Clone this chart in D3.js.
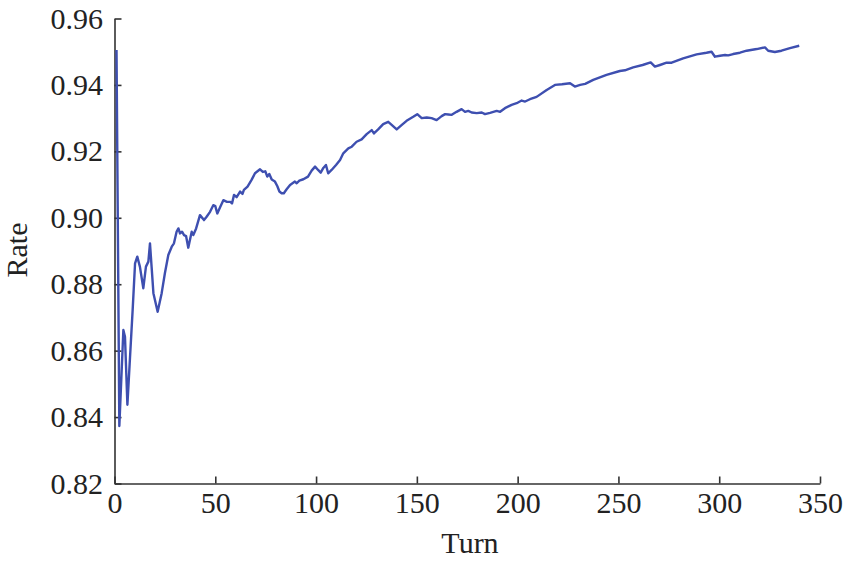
<!DOCTYPE html>
<html>
<head>
<meta charset="utf-8">
<script src="https://cdn.jsdelivr.net/npm/d3@7"></script>
<style>
  html, body { margin: 0; padding: 0; background: #fff; }
  svg { display: block; }
  .axis text { font-family: "Liberation Serif", "Times New Roman", serif; font-size: 30px; fill: #222; }
  .axis path, .axis line { stroke: #333; stroke-width: 1.6; }
  .label { font-family: "Liberation Serif", "Times New Roman", serif; font-size: 30px; fill: #222; }
</style>
</head>
<body>
<svg id="chart" width="849" height="564"></svg>
<script>
// ---- data ----
const turns = [1, 2.4, 4.4, 5.2, 6.4, 7.7, 9, 10.2, 11.3, 12.6, 14.3, 15.6, 16.8, 17.6, 18.4, 19.3, 21.4, 23.4, 25, 26.7, 28.4, 29.5, 30.8, 31.7, 32.5, 33.5, 34.5, 35.5, 36.6, 38.3, 39.1, 40.5, 42.4, 44.4, 45.7, 47.4, 49, 50, 51, 52.5, 54, 55.8, 57.5, 58.3, 59.3, 60.6, 62.3, 63.5, 64.2, 66, 68, 69.7, 72.2, 73.6, 74.8, 75.8, 76.8, 78, 79.6, 80.8, 81.8, 82.9, 84, 85.4, 87.1, 89.5, 90.4, 91.7, 93.7, 96, 97.8, 99.5, 101, 102.3, 103.6, 104.9, 106, 107.7, 109.9, 111.9, 113.5, 116, 117.7, 120.1, 122.6, 125.1, 127.6, 128.7, 130.8, 133.3, 135.8, 137.5, 140, 142.4, 144.9, 148.2, 150.2, 152.4, 154.9, 157.3, 159.8, 162.3, 164, 165.6, 167.3, 169.7, 172.2, 173.9, 175.5, 177.2, 179.7, 182.2, 183.8, 186.3, 189.6, 191.3, 193.7, 197, 199.5, 202, 203.7, 206.1, 209.4, 214.4, 218.5, 222, 226, 228.4, 231, 233.5, 237.5, 244.1, 250.7, 253.2, 257.3, 262, 266, 268.1, 270.6, 273.9, 276.4, 282.1, 288.8, 293.7, 296.2, 297.9, 300.4, 302.9, 304.5, 306.9, 310.3, 313.6, 318.6, 322.7, 324.3, 327.6, 330.9, 335.1, 339.7];
const rates = [0.9505, 0.8373, 0.8662, 0.8642, 0.8437, 0.858, 0.8722, 0.8863, 0.8883, 0.8853, 0.8788, 0.8853, 0.8868, 0.8923, 0.8853, 0.8773, 0.8717, 0.8773, 0.8833, 0.8888, 0.8913, 0.8923, 0.8958, 0.8968, 0.8953, 0.8958, 0.8948, 0.8945, 0.8910, 0.8958, 0.8948, 0.8968, 0.9008, 0.8993, 0.9003, 0.9018, 0.9038, 0.9035, 0.9013, 0.9033, 0.9053, 0.9048, 0.9048, 0.9043, 0.9069, 0.9062, 0.9079, 0.9072, 0.9084, 0.9094, 0.9114, 0.9134, 0.9146, 0.9138, 0.9140, 0.9124, 0.9132, 0.9115, 0.9109, 0.9095, 0.9079, 0.9074, 0.9074, 0.9086, 0.9099, 0.9109, 0.9104, 0.9112, 0.9116, 0.9124, 0.9142, 0.9154, 0.9144, 0.9136, 0.9150, 0.9159, 0.9134, 0.9144, 0.9159, 0.9174, 0.9194, 0.9209, 0.9214, 0.9229, 0.9236, 0.9252, 0.9264, 0.9254, 0.9266, 0.9282, 0.9289, 0.9280, 0.9266, 0.9279, 0.9292, 0.9304, 0.9312, 0.9300, 0.9302, 0.9300, 0.9294, 0.9306, 0.9312, 0.9311, 0.9310, 0.9319, 0.9327, 0.9319, 0.9322, 0.9317, 0.9315, 0.9317, 0.9312, 0.9316, 0.9322, 0.9319, 0.9330, 0.9340, 0.9345, 0.9353, 0.9350, 0.9357, 0.9364, 0.9385, 0.9400, 0.9402, 0.9405, 0.9395, 0.9400, 0.9403, 0.9415, 0.9430, 0.9442, 0.9444, 0.9453, 0.9460, 0.9468, 0.9455, 0.9460, 0.9467, 0.9467, 0.9480, 0.9492, 0.9497, 0.9500, 0.9485, 0.9488, 0.9490, 0.9489, 0.9493, 0.9497, 0.9503, 0.9508, 0.9513, 0.9503, 0.9499, 0.9503, 0.9511, 0.9518];
const xTicks = [0, 50, 100, 150, 200, 250, 300, 350];
const yTicks = [0.82, 0.84, 0.86, 0.88, 0.90, 0.92, 0.94, 0.96];
const xLabel = "Turn";
const yLabel = "Rate";

// ---- layout ----
const svg = d3.select("#chart");
const x = d3.scaleLinear().domain([0, 350]).range([114.5, 820]);
const y = d3.scaleLinear().domain([0.82, 0.96]).range([483.5, 18.5]);

const xAxis = d3.axisBottom(x).tickValues(xTicks).tickFormat(d3.format("d"))
  .tickSizeInner(-7).tickSizeOuter(0).tickPadding(8);
const yAxis = d3.axisLeft(y).tickValues(yTicks).tickFormat(d3.format(".2f"))
  .tickSizeInner(-7).tickSizeOuter(0).tickPadding(11.5);

svg.append("g").attr("class", "axis")
  .attr("transform", "translate(0,483.5)").call(xAxis);
svg.append("g").attr("class", "axis")
  .attr("transform", "translate(114.5,0)").call(yAxis);

const pts = turns.map((t, i) => [t, rates[i]]);
const line = d3.line().x(d => x(d[0])).y(d => y(d[1]));
svg.append("path").datum(pts)
  .attr("d", line)
  .attr("fill", "none")
  .attr("stroke", "#3e4fb0")
  .attr("stroke-width", 2.4)
  .attr("stroke-linejoin", "round");

svg.append("text").attr("class", "label")
  .attr("x", 470).attr("y", 553).attr("text-anchor", "middle").text(xLabel);
svg.append("text").attr("class", "label")
  .attr("transform", "translate(27,250) rotate(-90)")
  .attr("text-anchor", "middle").text(yLabel);
</script>
</body>
</html>
